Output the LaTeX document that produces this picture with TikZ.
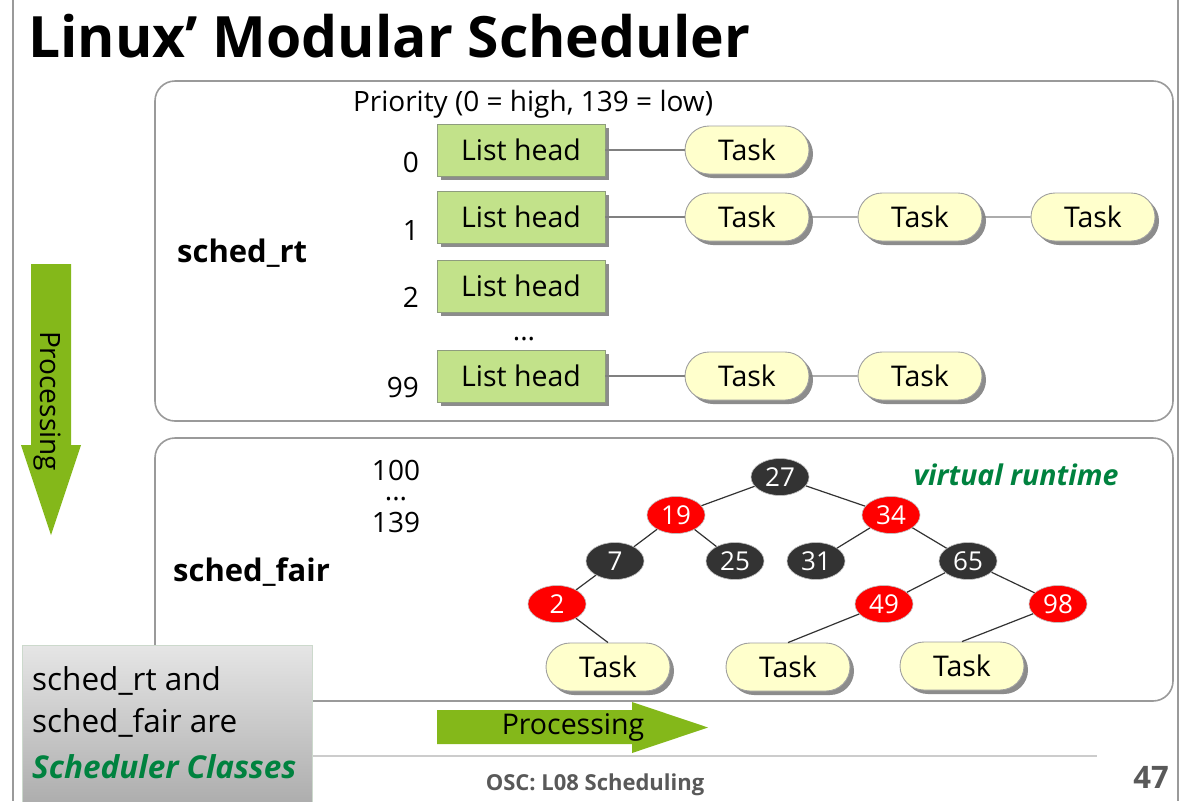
\documentclass[tikz,border=0pt]{standalone}
\usepackage{fontspec}
\setmainfont{Open Sans}
\usetikzlibrary{shapes.geometric,shapes.misc,shadows}

\definecolor{frame}{HTML}{9A9A9A}
\definecolor{headfill}{HTML}{C2E28A}
\definecolor{headline}{HTML}{8E9C7E}
\definecolor{taskfill}{HTML}{FFFFCC}
\definecolor{taskline}{HTML}{A0A0A0}
\definecolor{arrowgreen}{HTML}{84B81A}
\definecolor{darknode}{HTML}{333333}
\definecolor{rednode}{HTML}{FF0000}
\definecolor{classgreen}{HTML}{00823F}
\definecolor{footgray}{HTML}{595959}

\newcommand{\fs}[1]{\fontsize{#1}{#1}\selectfont}

\tikzset{
  panel/.style={draw=frame, line width=1.6pt, rounded corners=20pt},
  shadowed/.style={drop shadow={shadow xshift=4pt, shadow yshift=-4pt, fill=black!45, opacity=1}},
  lhead/.style={rectangle, draw=headline, line width=0.9pt, fill=headfill,
    minimum width=168pt, minimum height=52pt, inner sep=0pt, font=\fs{28.5}, shadowed},
  taskbox/.style={rounded rectangle, draw=taskline, line width=0.9pt, fill=taskfill,
    minimum width=124pt, minimum height=48pt, inner sep=0pt, font=\fs{28.5}, shadowed},
  link/.style={draw=black!50, line width=1.1pt},
  edge/.style={draw=darknode, line width=1.2pt},
  rb/.style={ellipse, minimum width=58pt, minimum height=37pt, inner sep=0pt,
    text=white, font=\fs{26}},
  rbred/.style={rb, fill=rednode, draw=black!25, line width=0.6pt},
  rbblack/.style={rb, fill=darknode, draw=black!25, line width=0.6pt},
  lbl/.style={font=\fs{28}, inner sep=0pt},
  dots/.style={font=\fs{28}, inner sep=0pt, anchor=base, text height=3pt, text depth=0pt},
  arrowfill/.style={fill=arrowgreen, draw=none}
}

\begin{document}
\begin{tikzpicture}[x=1pt, y=-1pt]
  \clip (0,0) rectangle (1188,801);
  \fill[white] (0,0) rectangle (1188,801);

  % page frame lines
  \draw[frame, line width=1.5pt] (13,0) -- (13,801);
  \draw[frame, line width=1.5pt] (1178,0) -- (1178,801);

  % title
  \node[anchor=base west, inner sep=0pt, font=\bfseries\fs{57}] (title) at (28,57) {Linux’ Modular Scheduler};

  % scheduler class panels
  \draw[panel] (155,81) rectangle (1173,421);
  \draw[panel] (155,438) rectangle (1173,701);

  % ---- sched_rt: priority array of lists ----
  \node[lbl] (prio) at (533,104) {Priority (0 = high, 139 = low)};
  \node[lbl, font=\bfseries\fs{31}, anchor=west] (rt) at (177,253) {sched\_rt};

  \node[lhead] (l0) at (521,150) {List head};
  \node[lhead] (l1) at (521,217) {List head};
  \node[lhead] (l2) at (521,286) {List head};
  \node[lhead] (l99) at (521,376) {List head};
  \node[dots] (ldots) at (524,340) {...};

  \node[lbl, anchor=east] (p0) at (419,162) {0};
  \node[lbl, anchor=east] (p1) at (419,230) {1};
  \node[lbl, anchor=east] (p2) at (419,297) {2};
  \node[lbl, anchor=east] (p99) at (419,387) {99};

  \node[taskbox] (t0a) at (747,150) {Task};
  \node[taskbox] (t1a) at (747,217) {Task};
  \node[taskbox] (t1b) at (920,217) {Task};
  \node[taskbox] (t1c) at (1093,217) {Task};
  \node[taskbox] (t99a) at (747,376) {Task};
  \node[taskbox] (t99b) at (920,376) {Task};

  \draw[link] (l0) -- (t0a);
  \draw[link] (l1) -- (t1a);
  \draw[link] (t1a) -- (t1b);
  \draw[link] (t1b) -- (t1c);
  \draw[link] (l99) -- (t99a);
  \draw[link] (t99a) -- (t99b);

  % ---- sched_fair: red-black tree keyed by virtual runtime ----
  \node[lbl] (f100) at (396,470) {100};
  \node[dots] (fdots) at (396,500) {...};
  \node[lbl] (f139) at (396,522) {139};
  \node[lbl, font=\bfseries\fs{31}, anchor=west] (fair) at (173,572) {sched\_fair};
  \node[lbl, font=\bfseries\itshape\fs{28.5}, text=classgreen] (vr) at (1016,475) {virtual runtime};

  \node[rbblack] (n27) at (780,477) {27};
  \node[rbred]   (n19) at (676,515) {19};
  \node[rbred]   (n34) at (891,515) {34};
  \node[rbblack] (n7)  at (615,561) {7};
  \node[rbblack] (n25) at (735,561) {25};
  \node[rbblack] (n31) at (816,561) {31};
  \node[rbblack] (n65) at (968,561) {65};
  \node[rbred]   (n2)  at (557,604) {2};
  \node[rbred]   (n49) at (884,604) {49};
  \node[rbred]   (n98) at (1058,604) {98};

  \node[taskbox] (ta) at (608,667) {Task};
  \node[taskbox] (tb) at (788,667) {Task};
  \node[taskbox] (tc) at (962,666) {Task};

  \draw[edge] (n27) -- (n19);
  \draw[edge] (n27) -- (n34);
  \draw[edge] (n19) -- (n7);
  \draw[edge] (n19) -- (n25);
  \draw[edge] (n34) -- (n31);
  \draw[edge] (n34) -- (n65);
  \draw[edge] (n7) -- (n2);
  \draw[edge] (n65) -- (n49);
  \draw[edge] (n65) -- (n98);
  \draw[edge] (n2) -- (ta.north);
  \draw[edge] (n49) -- (tb.north);
  \draw[edge] (n98) -- (tc.north);

  % ---- processing direction arrows ----
  \fill[arrowfill] (31,264) -- (71,264) -- (71,445) -- (81,445) -- (51,535)
    -- (21,445) -- (31,445) -- cycle;
  \node[lbl, rotate=-90, font=\fs{28}] (vproc) at (47,401) {Processing};

  \fill[arrowfill] (437,710) -- (632,710) -- (632,702) -- (708,727.5) -- (632,753)
    -- (632,744) -- (437,744) -- cycle;
  \node[lbl, font=\fs{28.5}] (hproc) at (573,727) {Processing};

  % ---- footer ----
  \draw[black!20, line width=1.5pt] (22,756) -- (1097,756);
  \node[lbl, font=\bfseries\fs{22}, text=footgray] (foot) at (595,785) {OSC: L08 Scheduling};
  \node[lbl, font=\bfseries\fs{31}, text=footgray] (page) at (1151,777) {47};

  % ---- note box ----
  \shade[top color=black!10, bottom color=black!33, draw=green!25!black!20, line width=0.8pt]
    (22,645) rectangle (312,810);
  \node[lbl, anchor=west, font=\fs{31.5}] (n1) at (32,681) {sched\_rt and};
  \node[lbl, anchor=west, font=\fs{31.5}] (n2l) at (32,723) {sched\_fair are};
  \node[lbl, anchor=west, font=\bfseries\itshape\fs{31.5}, text=classgreen] (n3) at (32,767) {Scheduler Classes};
\end{tikzpicture}
\end{document}
